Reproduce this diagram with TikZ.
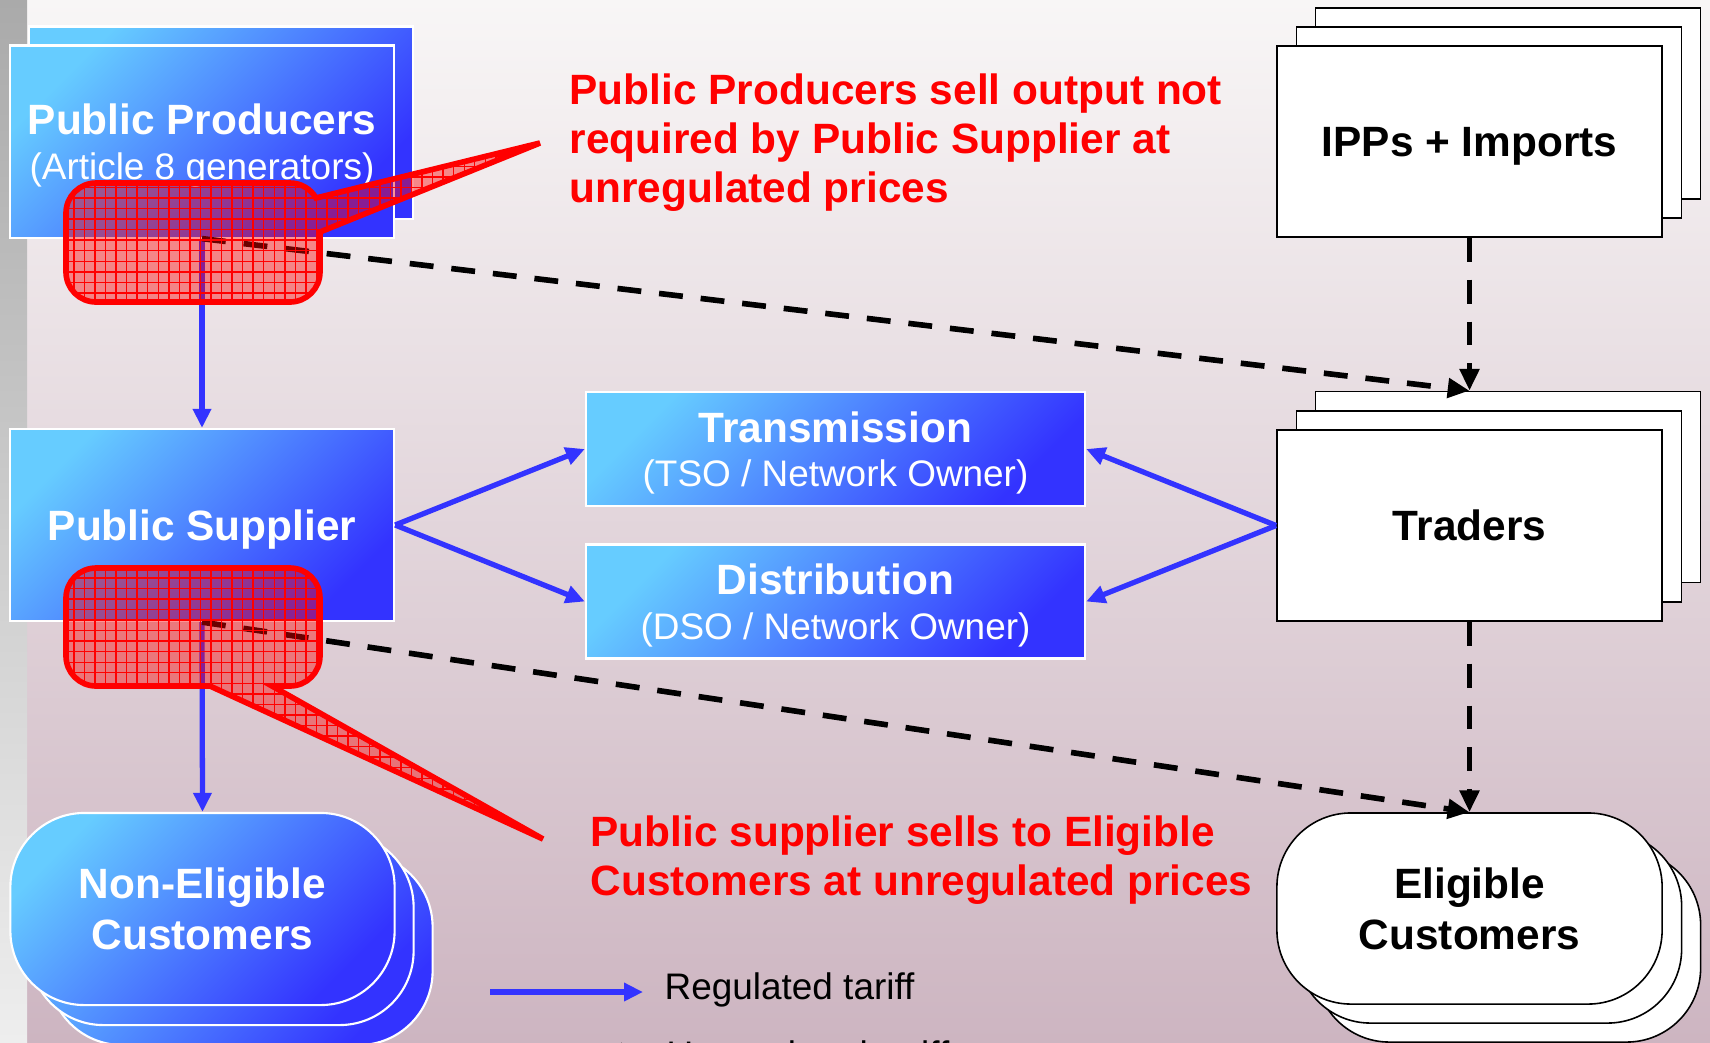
\documentclass[tikz,border=0pt]{standalone}
\usepackage{fontspec}
\setmainfont{Liberation Sans}
\usetikzlibrary{arrows.meta,patterns}
\definecolor{boxlight}{RGB}{102,204,255}
\definecolor{boxdark}{RGB}{51,51,255}
\definecolor{regblue}{RGB}{51,51,255}
\definecolor{bgtop}{RGB}{248,246,246}
\definecolor{bgbottom}{RGB}{205,181,193}
\definecolor{striptop}{RGB}{170,170,170}
\definecolor{stripbottom}{RGB}{238,238,238}
\newcommand{\boxfont}{\fontsize{12.05}{12.7}\selectfont\bfseries}
\newcommand{\custfont}{\fontsize{12.05}{14.5}\selectfont\bfseries}
\newcommand{\subfont}{\fontsize{10.5}{12.7}\selectfont\mdseries}
\newcommand{\notefont}{\fontsize{12.05}{14}\selectfont\bfseries}
\newcommand{\keyfont}{\fontsize{10.5}{12.6}\selectfont}
\tikzset{
  bluebox/.style={
    draw=white, line width=0.6pt, shade, top color=boxlight, bottom color=boxdark,
    shading angle=45, align=center, text=white, font=\boxfont, inner sep=0pt,
    text depth=0pt, minimum width=3.84cm, minimum height=1.92cm
  },
  netbox/.style={bluebox, minimum width=4.99cm, minimum height=1.14cm},
  bluecust/.style={bluebox, rounded corners=0.74cm, font=\custfont},
  whitebox/.style={
    draw=black, line width=0.45pt, fill=white, align=center, font=\boxfont,
    inner sep=0pt, text depth=0pt, minimum width=3.85cm, minimum height=1.91cm
  },
  whitecust/.style={whitebox, rounded corners=0.74cm, font=\custfont},
  reg/.style={draw=regblue, line width=1.5pt, -{Triangle[length=5.4pt,width=5pt]}},
  unreg/.style={
    draw=black, line width=1.6pt, dash pattern=on 6.8pt off 5.1pt,
    -{Triangle[length=6.2pt,width=5.4pt]}
  },
  callout/.style={
    draw=red, line width=1.6pt, fill=red, fill opacity=0.42,
    postaction={pattern=grid, pattern color=red}
  },
  note/.style={text=red, font=\notefont, align=left, inner sep=0pt},
  keytext/.style={font=\keyfont, inner sep=0pt},
}
\begin{document}
\begin{tikzpicture}[x=0.01cm, y=-0.01cm]
  \useasboundingbox (0,0) rectangle (1710,1042);
  \clip (0,0) rectangle (1710,1042);
  % background
  \shade[top color=bgtop, bottom color=bgbottom] (27,0) rectangle (1710,1042);
  \shade[top color=striptop, bottom color=stripbottom] (0,0) rectangle (27,1042);

  % public side
  \node[bluebox] (ppB) at (221,122.5) {};
  \node[bluebox] (pp) at (202,141.5) {Public Producers\\{\subfont (Article 8 generators)}};
  \node[bluebox] (ps) at (202,525) {Public Supplier};
  \node[bluecust] (neC) at (240.5,949) {};
  \node[bluecust] (neB) at (221.5,929) {};
  \node[bluecust] (ne) at (202.5,909) {Non-Eligible\\Customers};

  % networks
  \node[netbox] (trans) at (835.5,449) {Transmission\\{\subfont (TSO / Network Owner)}};
  \node[netbox] (dist) at (835.5,601.5) {Distribution\\{\subfont (DSO / Network Owner)}};

  % market side
  \node[whitebox] (ippC) at (1508,103.5) {};
  \node[whitebox] (ippB) at (1489,122.5) {};
  \node[whitebox] (ipp) at (1469.5,141.5) {IPPs + Imports};
  \node[whitebox] (tradC) at (1508,487) {};
  \node[whitebox] (tradB) at (1489,506.5) {};
  \node[whitebox] (trad) at (1469.5,525.5) {Traders};
  \node[whitecust] (elC) at (1508,946.5) {};
  \node[whitecust] (elB) at (1489,927.5) {};
  \node[whitecust] (el) at (1469.5,908.5) {Eligible\\Customers};

  % regulated flows
  \draw[reg] (pp.south) -- (ps.north);
  \draw[reg] (ps.south) -- (ne.north);
  \draw[reg] (ps.east) -- (trans.west);
  \draw[reg] (ps.east) -- (dist.west);
  \draw[reg] (trad.west) -- (trans.east);
  \draw[reg] (trad.west) -- (dist.east);

  % unregulated flows
  \coordinate (tradtop) at (ipp.south |- tradC.north);
  \draw[unreg] (ipp.south) -- (tradtop);
  \draw[unreg] (pp.south) -- (tradtop);
  \draw[unreg] (trad.south) -- (el.north);
  \draw[unreg] (ps.south) -- (el.north);

  % callouts
  \path[callout] (66,213) arc[start angle=180, end angle=270, radius=30]
    -- (290,183) arc[start angle=270, end angle=330, radius=30]
    -- (540,143) -- (320,232)
    -- (320,272) arc[start angle=0, end angle=90, radius=30]
    -- (96,302) arc[start angle=90, end angle=180, radius=30] -- cycle;
  \path[callout] (66,598) arc[start angle=180, end angle=270, radius=30]
    -- (290,568) arc[start angle=270, end angle=360, radius=30]
    -- (320,656) arc[start angle=0, end angle=90, radius=30]
    -- (272,686) -- (543,839) -- (210,686)
    -- (96,686) arc[start angle=90, end angle=180, radius=30] -- cycle;
  \node[note, anchor=north west] (noteA) at (569,73)
    {Public Producers sell output not\\required by Public Supplier at\\unregulated prices};
  \node[note, anchor=north west] (noteB) at (590,815)
    {Public supplier sells to Eligible\\Customers at unregulated prices};

  % legend
  \coordinate (regA) at (490,992);
  \coordinate (regB) at (643,992);
  \draw[reg] (regA) -- (regB);
  \node[keytext, anchor=base west] (regkey) at (664,999) {Regulated tariff};
  \coordinate (unregA) at (490,1053);
  \coordinate (unregB) at (643,1053);
  \draw[unreg] (unregA) -- (unregB);
  \node[keytext, anchor=base west] (unregkey) at (666,1067) {Unregulated tariff};
\end{tikzpicture}
\end{document}
